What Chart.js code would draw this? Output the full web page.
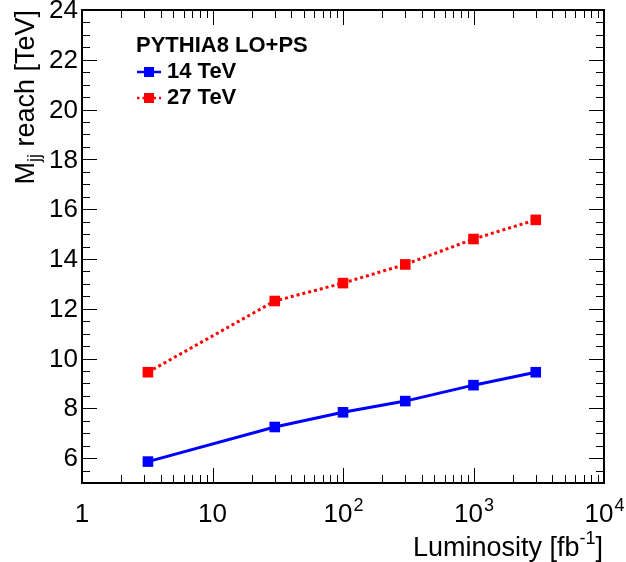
<!DOCTYPE html>
<html><head><meta charset="utf-8">
<script src="https://cdn.jsdelivr.net/npm/chart.js@4/dist/chart.umd.min.js"></script>
<style>html,body{margin:0;padding:0;background:#fff}#wrap{width:626px;height:562px}</style>
</head><body><div id="wrap"><canvas id="c" width="626" height="562"></canvas></div>
<script>
const luminosity = [3.2, 30, 100, 300, 1000, 3000];
const reach14 = [5.86, 7.25, 7.84, 8.29, 8.93, 9.45];
const reach27 = [9.45, 12.31, 13.03, 13.78, 14.80, 15.57];
const yTicks = [6, 8, 10, 12, 14, 16, 18, 20, 22, 24];
const xTickExp = [0, 1, 2, 3, 4];
const legendTitle = "PYTHIA8 LO+PS";
const seriesNames = ["14 TeV", "27 TeV"];

const F = "'Liberation Sans', Arial, Helvetica, sans-serif";

const pts = (ys) => luminosity.map((x, i) => ({x: x, y: ys[i]}));

const framePlugin = {
  id: 'frame',
  afterDraw(chart) {
    const ctx = chart.ctx, a = chart.chartArea;
    const xs = chart.scales.x, ys = chart.scales.y;
    ctx.save();
    ctx.strokeStyle = '#000';
    ctx.lineWidth = 1;
    ctx.beginPath();
    for (let v = 5; v <= 24.001; v += 0.5) {
      const py = Math.round(ys.getPixelForValue(v)) + 0.5;
      const major = Math.abs(v / 2 - Math.round(v / 2)) < 1e-6;
      const L = major ? 15 : 8;
      ctx.moveTo(a.left, py); ctx.lineTo(a.left + L, py);
      ctx.moveTo(a.right, py); ctx.lineTo(a.right - L, py);
    }
    for (let e = 0; e <= 4; e++) {
      for (let m = 1; m <= 9; m++) {
        if (e === 4 && m > 1) break;
        const v = m * Math.pow(10, e);
        const px = Math.round(xs.getPixelForValue(v)) + 0.5;
        const L = m === 1 ? 15 : 8;
        ctx.moveTo(px, a.bottom); ctx.lineTo(px, a.bottom - L);
        ctx.moveTo(px, a.top); ctx.lineTo(px, a.top + L);
      }
    }
    ctx.stroke();
    ctx.lineWidth = 2;
    ctx.strokeRect(a.left, a.top, a.right - a.left, a.bottom - a.top);

    ctx.fillStyle = '#000';
    ctx.font = '26px ' + F;
    ctx.textAlign = 'right';
    ctx.textBaseline = 'middle';
    yTicks.forEach(v => {
      ctx.fillText(String(v), a.left - 4, ys.getPixelForValue(v) + 1);
    });
    ctx.textBaseline = 'alphabetic';
    xTickExp.forEach(e => {
      const px = xs.getPixelForValue(Math.pow(10, e));
      const by = 522;
      if (e === 0 || e === 1) {
        ctx.font = '26px ' + F;
        ctx.textAlign = 'center';
        ctx.fillText(e === 0 ? '1' : '10', px, by);
      } else {
        ctx.font = '26px ' + F;
        const w1 = ctx.measureText('10').width;
        ctx.font = '18px ' + F;
        const w2 = ctx.measureText(String(e)).width;
        const x0 = px - (w1 + w2) / 2;
        ctx.textAlign = 'left';
        ctx.font = '26px ' + F;
        ctx.fillText('10', x0, by);
        ctx.font = '18px ' + F;
        ctx.fillText(String(e), x0 + w1 + 1, by - 11);
      }
    });
    // x title
    ctx.textAlign = 'left';
    ctx.font = '27px ' + F;
    const t1 = 'Luminosity [fb', t3 = ']';
    const w1 = ctx.measureText(t1).width, w3 = ctx.measureText(t3).width;
    ctx.font = '18px ' + F;
    const w2 = ctx.measureText('-1').width;
    const xEnd = 603;
    let x0 = xEnd - (w1 + w2 + w3);
    const by = 556;
    ctx.font = '27px ' + F;
    ctx.fillText(t1, x0, by);
    ctx.font = '18px ' + F;
    ctx.fillText('-1', x0 + w1, by - 12);
    ctx.font = '27px ' + F;
    ctx.fillText(t3, x0 + w1 + w2, by);

    // y title (rotated)
    ctx.save();
    ctx.translate(34, a.top);
    ctx.rotate(-Math.PI / 2);
    ctx.font = '27px ' + F;
    const yt1 = 'M', yt3 = ' reach [TeV]';
    const m1 = ctx.measureText(yt1).width, m3 = ctx.measureText(yt3).width;
    ctx.font = '18px ' + F;
    const m2 = ctx.measureText('jj').width;
    let s = -(m1 + m2 + m3);
    ctx.textAlign = 'left';
    ctx.font = '27px ' + F;
    ctx.fillText(yt1, s, 0);
    ctx.font = '18px ' + F;
    ctx.fillText('jj', s + m1, 6);
    ctx.font = '27px ' + F;
    ctx.fillText(yt3, s + m1 + m2, 0);
    ctx.restore();

    // legend
    ctx.font = 'bold 22px ' + F;
    ctx.textAlign = 'left';
    ctx.fillText(legendTitle, 136, 52);
    const cols = ['#0000ff', '#ff0000'];
    const ly = [72, 98];
    const by2 = [78, 104];
    for (let i = 0; i < 2; i++) {
      ctx.strokeStyle = cols[i];
      ctx.lineWidth = 2.5;
      ctx.setLineDash(i === 1 ? [2.5, 3] : []);
      ctx.beginPath(); ctx.moveTo(137, ly[i]); ctx.lineTo(161, ly[i]); ctx.stroke();
      ctx.setLineDash([]);
      ctx.fillStyle = cols[i];
      ctx.fillRect(144, ly[i] - 5, 10, 10);
      ctx.fillStyle = '#000';
      ctx.fillText(seriesNames[i], 167, by2[i]);
    }
    ctx.restore();
  }
};

new Chart(document.getElementById('c'), {
  type: 'scatter',
  data: {
    datasets: [
      { label: seriesNames[0], data: pts(reach14), showLine: true,
        borderColor: '#0000ff', backgroundColor: '#0000ff', borderWidth: 3,
        pointStyle: 'rect', pointRadius: 7.5, pointHoverRadius: 7.5, pointBorderWidth: 0 },
      { label: seriesNames[1], data: pts(reach27), showLine: true,
        borderColor: '#ff0000', backgroundColor: '#ff0000', borderWidth: 3, borderDash: [3, 3],
        pointStyle: 'rect', pointRadius: 7.5, pointHoverRadius: 7.5, pointBorderWidth: 0 }
    ]
  },
  options: {
    responsive: false,
    animation: false,
    events: [],
    layout: { padding: { left: 82, right: 22, top: 10, bottom: 79 } },
    plugins: { legend: { display: false }, tooltip: { enabled: false } },
    scales: {
      x: { type: 'logarithmic', min: 1, max: 10000, display: false },
      y: { type: 'linear', min: 5, max: 24, display: false }
    }
  },
  plugins: [framePlugin]
});
</script></body></html>
